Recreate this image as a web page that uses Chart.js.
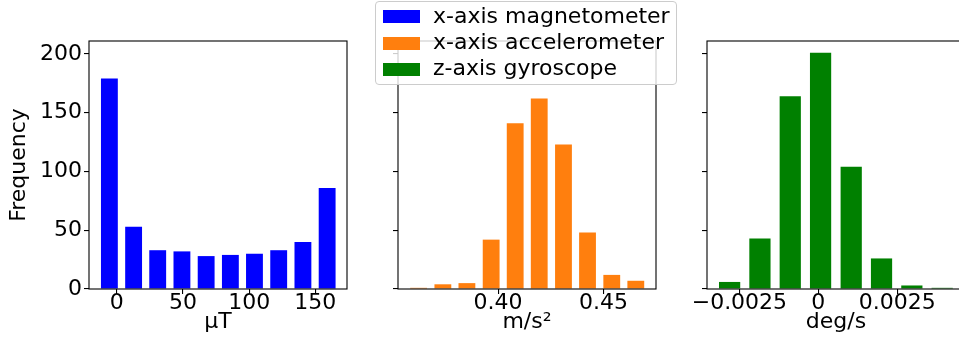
<!DOCTYPE html>
<html lang="en">
<head>
    <meta charset="UTF-8">
    <title>Sensor noise histograms</title>
    <script src="https://cdn.jsdelivr.net/npm/chart.js@4.4.1/dist/chart.umd.min.js"></script>
    <style>
        html, body { margin: 0; padding: 0; background: #fff; overflow: hidden; }
        body { width: 959px; height: 340px; position: relative; font-family: "DejaVu Sans", sans-serif; }
        .panel { position: absolute; top: 0; }
        #legend {
            position: absolute; left: 375px; top: 1px; width: 302px; height: 84px;
            box-sizing: border-box; border: 1px solid #cccccc; border-radius: 4px;
            background: rgba(255, 255, 255, 0.8); font-size: 22px; color: #000;
        }
        #legend .swatch { position: absolute; left: 7px; width: 37px; height: 13px; }
        #legend .label { position: absolute; left: 57px; line-height: 26px; white-space: nowrap; }
    </style>
</head>
<body>
    <div class="panel" style="left:0px"><canvas id="magChart" width="360" height="340"></canvas></div>
    <div class="panel" style="left:360px"><canvas id="accChart" width="310" height="340"></canvas></div>
    <div class="panel" style="left:670px"><canvas id="gyroChart" width="300" height="340"></canvas></div>
    <div id="legend"></div>

    <script>
        // histogram bin centres and counts for each sensor
        const magCenters = [-5.6, 12.7, 30.9, 49.2, 67.5, 85.8, 104.0, 122.3, 140.6, 158.9];
        const magCounts = [179, 53, 33, 32, 28, 29, 30, 33, 40, 86];

        const accCenters = [0.3623, 0.3738, 0.3852, 0.3967, 0.4081, 0.4195, 0.4310, 0.4424, 0.4539, 0.4653];
        const accCounts = [1, 4, 5, 42, 141, 162, 123, 48, 12, 7];

        const gyroCenters = [-0.00281, -0.00185, -0.00089, 0.00007, 0.00104, 0.00200, 0.00296, 0.00392];
        const gyroCounts = [6, 43, 164, 201, 104, 26, 3, 1];

        const seriesNames = ['x-axis magnetometer', 'x-axis accelerometer', 'z-axis gyroscope'];
        const seriesColors = ['#0000ff', '#ff7f0e', '#008000'];
        const unitLabels = ['\u03bcT', 'm/s\u00b2', 'deg/s'];

        const freqTicks = [0, 50, 100, 150, 200];
        const magTicks = [0, 50, 100, 150];
        const magTickLabels = ['0', '50', '100', '150'];
        const accTicks = [0.40, 0.45];
        const accTickLabels = ['0.40', '0.45'];
        const gyroTicks = [-0.0025, 0, 0.0025];
        const gyroTickLabels = ['\u22120.0025', '0', '0.0025'];

        const FONT = { family: 'DejaVu Sans', size: 22 };
        Chart.defaults.color = '#000';

        // full box around the plot area, like matplotlib spines
        const frame = {
            id: 'frame',
            afterDraw(chart) {
                const a = chart.chartArea, ctx = chart.ctx;
                ctx.save();
                ctx.strokeStyle = '#000';
                ctx.lineWidth = 1.1;
                ctx.strokeRect(a.left, a.top, a.right - a.left, a.bottom - a.top);
                ctx.restore();
            }
        };

        function makeHist(id, opts) {
            const tickGrid = { display: true, drawOnChartArea: false, drawTicks: true,
                               tickLength: 5, tickColor: '#000', lineWidth: 1.1, offset: false };
            return new Chart(document.getElementById(id), {
                type: 'bar',
                data: {
                    datasets: [{
                        label: opts.name,
                        data: opts.centers.map((c, i) => ({ x: c, y: opts.counts[i] })),
                        backgroundColor: opts.color,
                        borderWidth: 0,
                        barPercentage: 0.7,
                        categoryPercentage: 1.0
                    }]
                },
                options: {
                    responsive: false,
                    animation: false,
                    devicePixelRatio: 1,
                    layout: { padding: { left: 0, top: 41, right: opts.padRight, bottom: 0 } },
                    plugins: { legend: { display: false }, tooltip: { enabled: false } },
                    scales: {
                        x: {
                            type: 'linear',
                            offset: false,
                            bounds: 'data',
                            min: opts.xMin,
                            max: opts.xMax,
                            grid: tickGrid,
                            border: { display: false },
                            afterBuildTicks: s => { s.ticks = opts.ticks.map(v => ({ value: v })); },
                            afterFit: s => { s.height = 51; },
                            ticks: {
                                font: FONT, padding: -4, maxRotation: 0, autoSkip: false,
                                callback: (v, i) => opts.tickLabels[i]
                            },
                            title: { display: true, text: opts.unit, font: FONT,
                                     padding: { top: 4.5, bottom: 4.5 } }
                        },
                        y: {
                            min: 0,
                            max: 211,
                            bounds: 'data',
                            grid: tickGrid,
                            border: { display: false },
                            afterBuildTicks: s => { s.ticks = freqTicks.map(v => ({ value: v })); },
                            afterFit: s => { s.width = opts.yWidth; },
                            ticks: { font: FONT, padding: 2, display: opts.showY },
                            title: { display: opts.showY, text: 'Frequency', font: FONT,
                                     padding: { top: 6, bottom: 6 } }
                        }
                    }
                },
                plugins: [frame]
            });
        }

        makeHist('magChart', {
            name: seriesNames[0], color: seriesColors[0], unit: unitLabels[0],
            centers: magCenters, counts: magCounts,
            ticks: magTicks, tickLabels: magTickLabels,
            xMin: -21, xMax: 173.9, yWidth: 89, padRight: 13, showY: true
        });
        makeHist('accChart', {
            name: seriesNames[1], color: seriesColors[1], unit: unitLabels[1],
            centers: accCenters, counts: accCounts,
            ticks: accTicks, tickLabels: accTickLabels,
            xMin: 0.35252, xMax: 0.47488, yWidth: 38, padRight: 14, showY: false
        });
        makeHist('gyroChart', {
            name: seriesNames[2], color: seriesColors[2], unit: unitLabels[2],
            centers: gyroCenters, counts: gyroCounts,
            ticks: gyroTicks, tickLabels: gyroTickLabels,
            xMin: -0.003526, xMax: 0.004643, yWidth: 37, padRight: 5, showY: false
        });

        // shared legend above the middle panel
        const legend = document.getElementById('legend');
        const swatchTops = [8, 34.7, 60.7];
        const labelTops = [0.7, 27.2, 53.4];
        seriesNames.forEach((name, i) => {
            const sw = document.createElement('div');
            sw.className = 'swatch';
            sw.style.top = swatchTops[i] + 'px';
            sw.style.background = seriesColors[i];
            legend.appendChild(sw);
            const lb = document.createElement('div');
            lb.className = 'label';
            lb.style.top = labelTops[i] + 'px';
            lb.textContent = name;
            legend.appendChild(lb);
        });
    </script>
</body>
</html>
